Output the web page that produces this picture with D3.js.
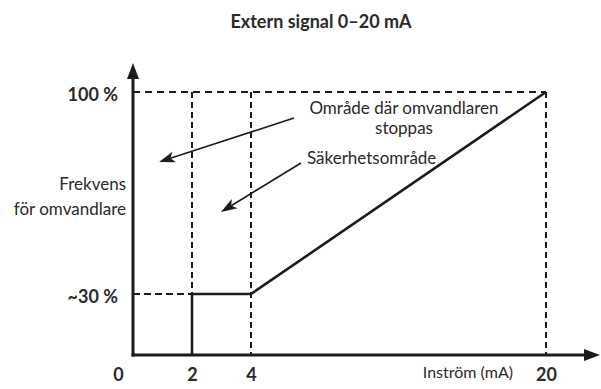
<!DOCTYPE html>
<html>
<head>
<meta charset="utf-8">
<script src="https://cdn.jsdelivr.net/npm/d3@7"></script>
<style>
  html, body { margin: 0; padding: 0; background: #fff; }
  svg { display: block; font-family: Lato, "Open Sans", sans-serif; }
</style>
</head>
<body>
<svg id="chart" width="601" height="389"></svg>
<script>
// Input current (mA) and converter frequency (%) — characteristic curve
const currentTicks = [0, 2, 4, 20];
const freqTicks = [30, 100];
const freqTickLabels = ["~30 %", "100 %"];
const curveCurrent = [2, 2, 4, 20];
const curveFreq = [0, 30, 30, 100];

const title = "Extern signal 0–20 mA";
const yTitle = ["Frekvens", "för omvandlare"];
const xTitle = "Inström (mA)";
const notes = [
  { lines: ["Område där omvandlaren", "stoppas"] },
  { lines: ["Säkerhetsområde"] }
];

const ink = "#1c1c1c";
const textInk = "#2a2a2a";
const svg = d3.select("#chart");

// Piecewise scales: the schematic stretches the low range
const x = d3.scaleLinear().domain([0, 2, 4, 20]).range([133, 192, 251, 546]);
const y = d3.scaleLinear().domain([0, 30, 100]).range([355, 294, 92]);

// Title
svg.append("text")
  .attr("x", 321).attr("y", 28)
  .attr("text-anchor", "middle")
  .attr("font-weight", 700).attr("font-size", 18)
  .attr("fill", textInk)
  .text(title);

// Dashed guide lines
const guides = svg.append("g").attr("fill", "none").attr("stroke", ink);
guides.append("line")
  .attr("x1", x(0)).attr("x2", x(20)).attr("y1", y(100)).attr("y2", y(100))
  .attr("stroke-width", 2.2).attr("stroke-dasharray", "7,5");
guides.append("line")
  .attr("x1", x(2)).attr("x2", x(2)).attr("y1", y(100)).attr("y2", y(30))
  .attr("stroke-width", 2).attr("stroke-dasharray", "6,4");
guides.append("line")
  .attr("x1", x(4)).attr("x2", x(4)).attr("y1", y(100)).attr("y2", y(0))
  .attr("stroke-width", 2).attr("stroke-dasharray", "6,4");
guides.append("line")
  .attr("x1", x(20)).attr("x2", x(20)).attr("y1", y(100)).attr("y2", y(0))
  .attr("stroke-width", 2).attr("stroke-dasharray", "6,4");
guides.append("line")
  .attr("x1", x(0)).attr("x2", x(2)).attr("y1", y(30)).attr("y2", y(30))
  .attr("stroke-width", 1.8).attr("stroke-dasharray", "7,4");

// Characteristic curve
const line = d3.line().x(d => x(d[0])).y(d => y(d[1]));
svg.append("path")
  .datum(d3.zip(curveCurrent, curveFreq))
  .attr("d", line)
  .attr("fill", "none").attr("stroke", ink)
  .attr("stroke-width", 2.6).attr("stroke-linejoin", "miter");

// Axis lines with arrowheads
const yTop = 63, xEnd = 600;
svg.append("line")
  .attr("x1", x(0)).attr("x2", x(0)).attr("y1", y(0) + 1.5).attr("y2", yTop + 10)
  .attr("stroke", ink).attr("stroke-width", 3);
svg.append("path")
  .attr("d", `M${x(0)},${yTop} L${x(0) + 6},${yTop + 16} L${x(0) - 6},${yTop + 16} Z`)
  .attr("fill", ink);
svg.append("line")
  .attr("x1", x(0) - 1.5).attr("x2", xEnd - 10).attr("y1", y(0)).attr("y2", y(0))
  .attr("stroke", ink).attr("stroke-width", 3);
svg.append("path")
  .attr("d", `M${xEnd},${y(0)} L${xEnd - 16},${y(0) - 6} L${xEnd - 16},${y(0) + 6} Z`)
  .attr("fill", ink);

// Tick labels on the current axis
const xAxis = d3.axisBottom(x).tickValues(currentTicks).tickSize(0).tickPadding(0)
  .tickFormat(d3.format("d"));
const gx = svg.append("g").attr("transform", `translate(0,${y(0)})`).call(xAxis);
gx.select(".domain").remove();
gx.selectAll("text")
  .attr("y", 26).attr("dy", 0)
  .attr("font-family", "Lato, sans-serif")
  .attr("font-weight", 700).attr("font-size", 18)
  .attr("fill", textInk)
  .attr("dx", d => d === 0 ? -15 : 0);

// Tick labels on the frequency axis
const yAxis = d3.axisLeft(y).tickValues(freqTicks).tickSize(0).tickPadding(0)
  .tickFormat((d, i) => freqTickLabels[i]);
const gy = svg.append("g").attr("transform", `translate(${x(0) - 15},0)`).call(yAxis);
gy.select(".domain").remove();
gy.selectAll("text")
  .attr("dy", 8)
  .attr("font-family", "Lato, sans-serif")
  .attr("font-weight", 700).attr("font-size", 18)
  .attr("fill", textInk);

// Axis titles
svg.append("text")
  .attr("x", 126).attr("text-anchor", "end")
  .attr("font-size", 17).attr("fill", textInk)
  .selectAll("tspan").data(yTitle).join("tspan")
  .attr("x", 126).attr("y", (d, i) => 190 + i * 25)
  .text(d => d);
svg.append("text")
  .attr("x", 513).attr("y", 378).attr("text-anchor", "end")
  .attr("font-size", 16).attr("fill", textInk)
  .text(xTitle);

// Annotations with arrows
svg.append("text")
  .attr("text-anchor", "middle").attr("font-size", 17).attr("fill", textInk)
  .selectAll("tspan").data(notes[0].lines).join("tspan")
  .attr("x", 404).attr("y", (d, i) => 114 + i * 20)
  .text(d => d);
svg.append("text")
  .attr("x", 307).attr("y", 164)
  .attr("font-size", 17).attr("fill", textInk)
  .text(notes[1].lines[0]);

function arrow(x1, y1, x2, y2) {
  const a = Math.atan2(y2 - y1, x2 - x1);
  const len = 16, half = 5.5;
  const bx = x2 - len * Math.cos(a), by = y2 - len * Math.sin(a);
  svg.append("line")
    .attr("x1", x1).attr("y1", y1).attr("x2", bx + 4 * Math.cos(a)).attr("y2", by + 4 * Math.sin(a))
    .attr("stroke", ink).attr("stroke-width", 1.6);
  const px = -Math.sin(a) * half, py = Math.cos(a) * half;
  svg.append("path")
    .attr("d", `M${x2},${y2} L${bx + px},${by + py} L${bx + 4 * Math.cos(a)},${by + 4 * Math.sin(a)} L${bx - px},${by - py} Z`)
    .attr("fill", ink);
}
arrow(294, 118, 159, 162);
arrow(301, 163, 221, 212);
</script>
</body>
</html>
